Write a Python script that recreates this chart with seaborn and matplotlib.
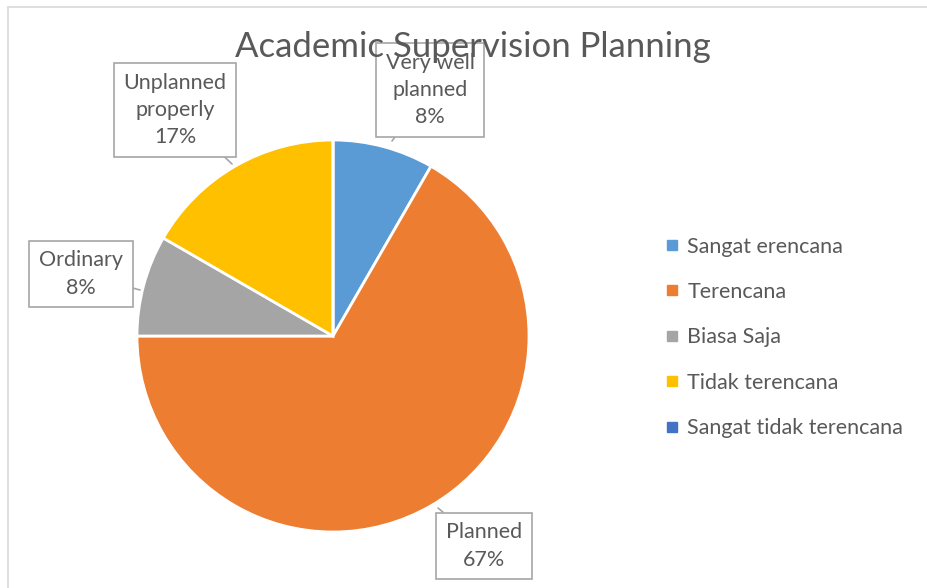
import matplotlib
matplotlib.use("Agg")
import matplotlib.pyplot as plt
import seaborn as sns
from matplotlib.lines import Line2D

# ---- data ----
categories = ["Sangat erencana", "Terencana", "Biasa Saja", "Tidak terencana", "Sangat tidak terencana"]
counts = [1, 8, 1, 2, 0]
label_names = ["Very well\nplanned", "Planned", "Ordinary", "Unplanned\nproperly", ""]
title = "Academic Supervision Planning"

colors = ["#5B9BD5", "#ED7D31", "#A5A5A5", "#FFC000", "#4472C4"]

sns.set_theme(style="white")
plt.rcParams["font.family"] = ["Lato", "DejaVu Sans"]

W, H = 927, 588
fig = plt.figure(figsize=(W / 100, H / 100), dpi=100)
fig.patch.set_facecolor("white")

cx, cy, r = 333, 336, 196
ax = fig.add_axes([(cx - r) / W, (H - cy - r) / H, 2 * r / W, 2 * r / H])

wedges, _ = ax.pie(counts, colors=colors, startangle=90, counterclock=False, radius=1,
                   wedgeprops=dict(edgecolor="white", linewidth=2))
ax.set_xlim(-1, 1)
ax.set_ylim(-1, 1)
ax.axis("off")

total = sum(counts)

def to_data(px, py):
    return ((px - cx) / r, (cy - py) / r)

# label box centers (pixels) and pointer targets (pixels)
label_pos = [(430, 90), (484, 546), (81, 274), (175, 110)]
pointer = [(392, 141), (438, 508), (140, 290), (232, 164)]
for i in range(4):
    pct = round(100 * counts[i] / total)
    txt = f"{label_names[i]}\n{pct}%"
    tx, ty = to_data(*label_pos[i])
    ax.annotate(txt, xy=to_data(*pointer[i]), xytext=(tx, ty), textcoords="data",
                ha="center", va="center", multialignment="center",
                fontsize=15.5, color="#595959", linespacing=1.45, annotation_clip=False,
                bbox=dict(boxstyle="square,pad=0.45", fc="white", ec="#A6A6A6", lw=1.2),
                arrowprops=dict(arrowstyle="-", color="#A6A6A6", lw=1.2,
                                shrinkA=0, shrinkB=0), zorder=5)

fig.text(473 / W, 1 - 47 / H, title, ha="center", va="center", fontsize=25,
         color="#595959", zorder=10)

handles = [Line2D([0], [0], marker="s", linestyle="none", markersize=7,
                  markerfacecolor=c, markeredgecolor=c) for c in colors]
leg = fig.legend(handles, categories, loc="upper left",
                 bbox_to_anchor=(655 / W, 1 - 228 / H), frameon=False,
                 fontsize=15.5, labelspacing=1.18, handletextpad=0.3,
                 handlelength=0.8, borderaxespad=0)
for t in leg.get_texts():
    t.set_color("#595959")

# outer chart-area border (left and top)
fig.add_artist(Line2D([8 / W, 8 / W], [0, 1 - 7 / H], color="#D9D9D9", lw=1.2))
fig.add_artist(Line2D([8 / W, 1], [1 - 7 / H, 1 - 7 / H], color="#D9D9D9", lw=1.2))

fig.savefig("out.png", dpi=100)
